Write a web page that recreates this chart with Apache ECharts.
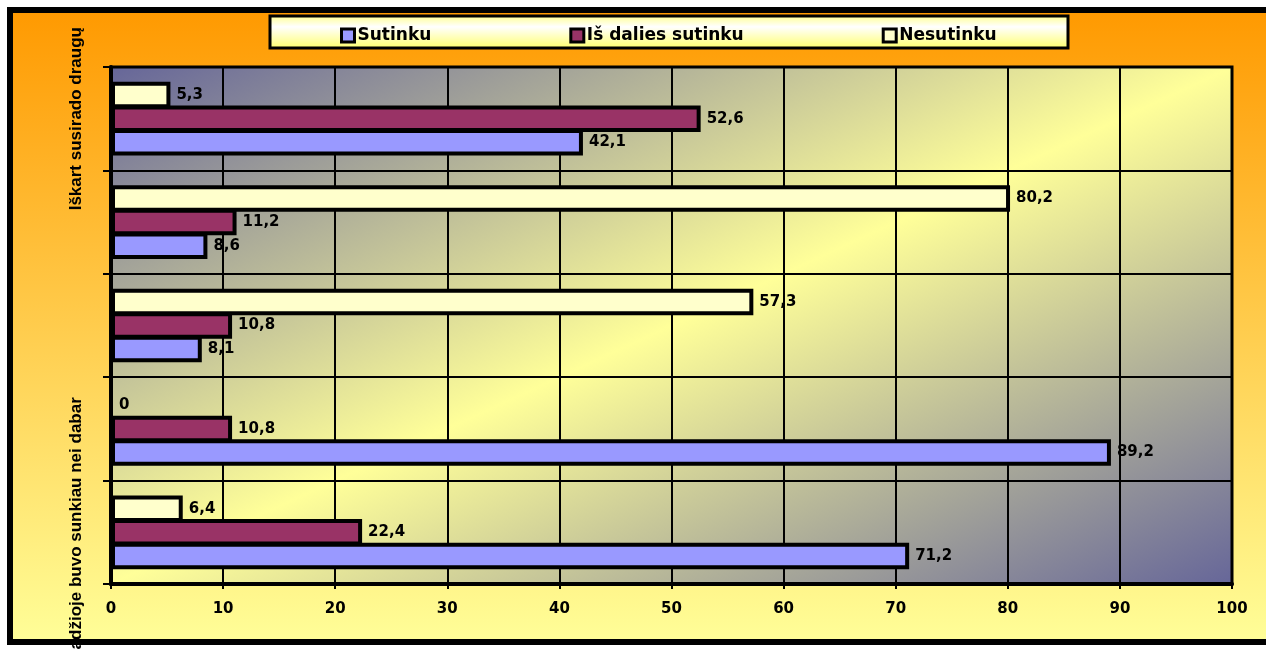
<!DOCTYPE html>
<html>
<head>
<meta charset="utf-8">
<script src="https://cdn.jsdelivr.net/npm/echarts@6/dist/echarts.min.js"></script>
<style>
html,body{margin:0;padding:0;background:#fff;}
#chart{width:1266px;height:649px;}
</style>
</head>
<body>
<div id="chart"></div>
<script>
// Categories listed bottom to top
const categories = ['Pradžioje buvo sunkiau nei dabar', 'Teiginys 2', 'Teiginys 3', 'Teiginys 4', 'Iškart susirado draugų'];
const seriesNames = ['Sutinku', 'Iš dalies sutinku', 'Nesutinku'];
const sutinku = [71.2, 89.2, 8.1, 8.6, 42.1];
const isDaliesSutinku = [22.4, 10.8, 10.8, 11.2, 52.6];
const nesutinku = [6.4, 0, 57.3, 80.2, 5.3];
const xTicks = [0, 10, 20, 30, 40, 50, 60, 70, 80, 90, 100];

const colors = ['#9999FF', '#993366', '#FFFFCC'];
const chart = echarts.init(document.getElementById('chart'), null, {renderer: 'canvas'});

function mkSeries(name, data, color) {
  return {
    name: name,
    type: 'bar',
    data: data,
    barWidth: 26.5,
    barGap: '-11%',
    itemStyle: {color: color, borderColor: '#000', borderWidth: 4},
    label: {
      show: true,
      position: 'right',
      distance: 6,
      color: '#000',
      fontFamily: 'DejaVu Sans',
      fontWeight: 'bold',
      fontSize: 15,
      formatter: p => String(p.value).replace('.', ',')
    }
  };
}

const plotL = 111, plotT = 67, plotR = 1232, plotB = 584;

const option = {
  animation: false,
  graphic: [
    {
      type: 'rect', z: -5,
      shape: {x: 10, y: 10, width: 1300, height: 632},
      style: {
        fill: new echarts.graphic.LinearGradient(0, 0, 0, 1, [
          {offset: 0, color: '#FF9900'},
          {offset: 1, color: '#FFFF99'}
        ]),
        stroke: '#000', lineWidth: 6
      }
    },
    {
      type: 'rect', z: -4,
      shape: {x: 270, y: 16, width: 798, height: 32},
      style: {
        fill: new echarts.graphic.LinearGradient(0, 0, 0, 1, [
          {offset: 0, color: '#FFFF88'},
          {offset: 0.35, color: '#FFFFFF'},
          {offset: 1, color: '#FFFF66'}
        ]),
        stroke: '#000', lineWidth: 3
      }
    }
  ],
  legend: {
    data: seriesNames,
    left: 335,
    top: 22,
    itemGap: 138,
    itemWidth: 13,
    itemHeight: 13,
    icon: 'rect',
    itemStyle: {borderColor: '#000', borderWidth: 3},
    textStyle: {color: '#000', fontFamily: 'DejaVu Sans', fontWeight: 'bold', fontSize: 17, padding: [0, 0, 0, -2]}
  },
  grid: {
    left: plotL, top: plotT, right: 1266 - plotR, bottom: 649 - plotB,
    containLabel: false,
    outerBoundsMode: 'none',
    show: true,
    borderColor: '#000',
    borderWidth: 3,
    backgroundColor: new echarts.graphic.LinearGradient(475, -101, 868, 752, [
      {offset: 0, color: '#666699'},
      {offset: 0.5, color: '#FFFF99'},
      {offset: 1, color: '#666699'}
    ], true)
  },
  xAxis: {
    type: 'value',
    min: xTicks[0],
    max: xTicks[xTicks.length - 1],
    interval: 10,
    axisLine: {show: true, lineStyle: {color: '#000', width: 4}},
    axisTick: {show: true, length: 5, lineStyle: {color: '#000', width: 2}},
    splitLine: {show: true, lineStyle: {color: '#000', width: 2}},
    axisLabel: {
      color: '#000', fontFamily: 'DejaVu Sans', fontWeight: 'bold', fontSize: 15, margin: 18,
      formatter: v => String(v)
    }
  },
  yAxis: {
    type: 'category',
    data: categories,
    axisLine: {show: true, lineStyle: {color: '#000', width: 4}},
    axisTick: {show: true, interval: 0, length: 8, lineStyle: {color: '#000', width: 2}},
    splitLine: {show: true, interval: 0, lineStyle: {color: '#000', width: 2}},
    axisLabel: {
      interval: 3,
      rotate: 90,
      margin: 26,
      color: '#000',
      fontFamily: 'Liberation Sans',
      fontWeight: 'bold',
      fontSize: 17
    }
  },
  // listed top-to-bottom within each group so that Sutinku sits lowest
  series: [
    mkSeries(seriesNames[2], nesutinku, colors[2]),
    mkSeries(seriesNames[1], isDaliesSutinku, colors[1]),
    mkSeries(seriesNames[0], sutinku, colors[0])
  ]
};
chart.setOption(option);
</script>
</body>
</html>
